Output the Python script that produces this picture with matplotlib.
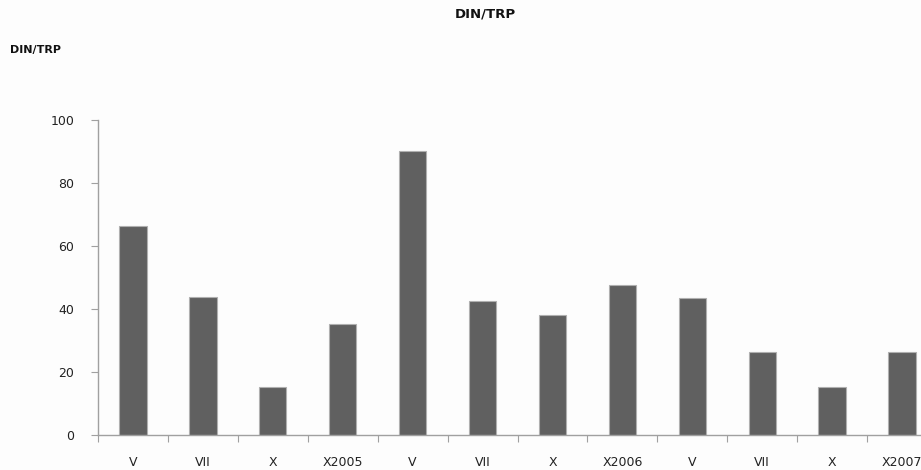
import numpy as np
import matplotlib
matplotlib.use("Agg")
import matplotlib.pyplot as plt

# sampling months, grouped by year
months = ["V", "VII", "X", "X2005", "V", "VII", "X", "X2006", "V", "VII", "X", "X2007"]
din_trp = [66.3, 43.9, 15.1, 35.2, 90.3, 42.5, 37.9, 47.7, 43.5, 26.3, 15.1, 26.3]

W, H = 921, 470
fig = plt.figure(figsize=(W / 100, H / 100), dpi=100, facecolor="#fdfdfd")

# plot area runs a little past the right edge of the figure
x0, x1 = 98, 937
y0, y1 = 434.7, 120
ax = fig.add_axes([x0 / W, 1 - y0 / H, (x1 - x0) / W, (y0 - y1) / H])
ax.set_facecolor("#fdfdfd")

x = np.arange(len(months))
ax.bar(x, din_trp, width=0.39, color="#606060", edgecolor="#b0b0b0", linewidth=0.8)

ax.set_xlim(-0.5, len(months) - 0.5)
ax.set_ylim(0, 100)
ax.set_yticks([0, 20, 40, 60, 80, 100])

# category boundaries carry the ticks, labels sit under the bars
ax.set_xticks(np.arange(len(months) + 1) - 0.5)
ax.set_xticklabels([])
ax.set_xticks(x, minor=True)
ax.set_xticklabels(months, minor=True)
ax.tick_params(axis="x", which="minor", length=0, pad=15, labelsize=9, labelcolor="#222222")
ax.tick_params(axis="x", which="major", length=5, color="#a0a0a0", direction="out")
ax.tick_params(axis="y", length=5, color="#a0a0a0", labelsize=9, labelcolor="#222222", pad=12)

for side in ["top", "right"]:
    ax.spines[side].set_visible(False)
for side in ["left", "bottom"]:
    ax.spines[side].set_color("#a0a0a0")
    ax.spines[side].set_linewidth(1.0)

fig.text(485 / W, 1 - 14 / H, "DIN/TRP", ha="center", va="center",
         fontsize=9.5, fontweight="bold", color="#111111")
fig.text(10 / W, 1 - 50 / H, "DIN/TRP", ha="left", va="center",
         fontsize=8, fontweight="bold", color="#111111")

fig.savefig("out.png", dpi=100, facecolor=fig.get_facecolor())
